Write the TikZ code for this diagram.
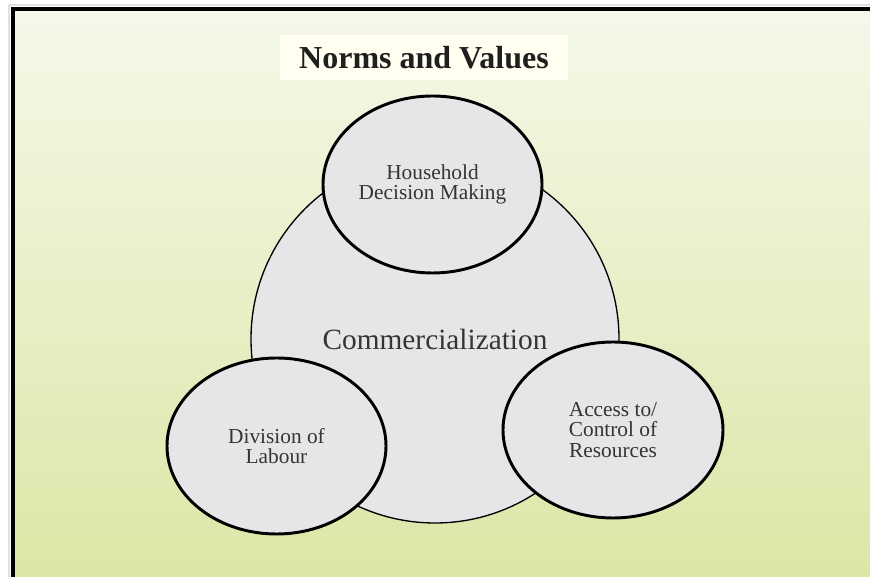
\documentclass[tikz,border=0pt]{standalone}
\usepackage{fontspec}
\setmainfont{Liberation Serif}
\usetikzlibrary{shapes.geometric}
\definecolor{bgtop}{HTML}{F5F8E9}
\definecolor{bgbot}{HTML}{DAE6A4}
\definecolor{blobfill}{HTML}{E7E5E7}
\definecolor{inktext}{HTML}{353535}
\definecolor{titlefill}{HTML}{FFFEF0}

\begin{document}
\begin{tikzpicture}[x=0.75pt,y=0.75pt,
  topic/.style={ellipse,draw,line width=2.2pt,fill=blobfill,inner sep=0pt,
    align=center,text=inktext,font=\fontsize{16}{15.5}\selectfont}]
\useasboundingbox (0,0) rectangle (870,577);
\clip (0,0) rectangle (870,577);
% Frame
\draw[black!12,line width=2pt] (9,-20) -- (9,572) -- (900,572);
\shade[top color=bgtop,bottom color=bgbot] (13,-20) rectangle (900,568);
\draw[line width=3pt] (13,-20) rectangle (900,568);
% Title
\node[fill=titlefill,minimum width=216pt,minimum height=33.75pt,inner sep=0pt,
  text=black!88,font=\fontsize{24}{28}\selectfont\bfseries] (title) at (424,519.5) {Norms and Values};
% Centre and the three topics
\node[circle,draw,line width=1pt,fill=blobfill,minimum size=276pt,inner sep=0pt,
  text=inktext,font=\fontsize{22}{26}\selectfont] (hub) at (435,238) {Commercialization};
\node[topic,minimum width=164.25pt,minimum height=132.75pt] (household) at (432.5,392.5) {Household\\Decision Making};
\node[topic,minimum width=164.25pt,minimum height=132pt] (labour) at (276.5,131) {Division of\\Labour};
\node[topic,minimum width=165pt,minimum height=132pt] (access) at (613,147) {Access to/\\Control of\\Resources};
\end{tikzpicture}
\end{document}
